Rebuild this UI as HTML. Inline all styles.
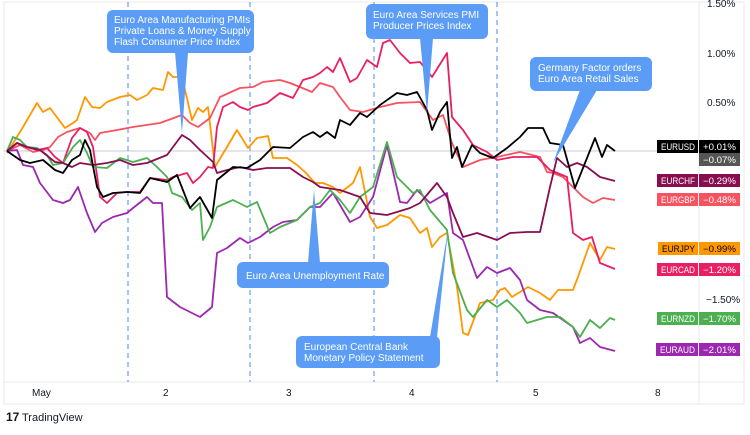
<!DOCTYPE html>
<html><head><meta charset="utf-8"><style>
body{margin:0;background:#fff;width:750px;height:430px;overflow:hidden;font-family:"Liberation Sans",sans-serif}
</style></head><body>
<svg width="750" height="430" xmlns="http://www.w3.org/2000/svg" font-family="Liberation Sans, sans-serif">
<rect x="4" y="2" width="740" height="402" fill="#fff" stroke="#e6e8ee"/>
<line x1="699" y1="2" x2="699" y2="404" stroke="#e6e8ee"/>
<line x1="4" y1="382" x2="744" y2="382" stroke="#e6e8ee"/>
<line x1="4" y1="151" x2="699" y2="151" stroke="#c9cbd2" stroke-width="1"/>
<g stroke="#4a8af4" stroke-dasharray="5,4" stroke-width="1">
<line x1="128" y1="2" x2="128" y2="382"/><line x1="250" y1="2" x2="250" y2="382"/>
<line x1="374" y1="2" x2="374" y2="382"/><line x1="497" y1="2" x2="497" y2="382"/>
</g>
<g fill="none" stroke-width="1.8" stroke-linejoin="round">
<polyline stroke="#ff9800" points="7,153 23,127 37,103 43,112 50,108 65,128 73,123 77,120 85,97 92,107 100,108 107,102 120,97 130,95 137,100 147,95 153,88 163,90 168,72 173,77 182,77 192,120 198,108 203,112 208,107 215,167 227,147 237,130 248,148 257,138 268,136 273,158 287,158 297,165 305,172 315,183 323,183 333,187 340,193 353,183 360,167 370,217 377,228 387,225 400,215 410,218 420,233 427,228 432,247 440,237 447,233 457,287 463,333 468,335 480,303 493,300 500,290 505,288 512,297 528,287 540,293 550,300 558,290 573,290 578,277 590,243 600,260 607,247 615,249"/>
<polyline stroke="#f7525f" points="7,151 20,145 33,152 43,150 50,147 58,137 67,132 80,128 90,133 95,140 100,133 117,130 133,127 160,123 182,115 190,123 198,127 210,118 220,97 240,88 253,87 263,82 280,80 290,83 300,87 312,92 320,83 333,87 340,97 350,110 363,112 380,107 397,103 420,102 433,120 443,115 452,143 463,167 480,160 497,157 520,152 540,157 547,172 553,173 563,177 583,197 593,203 603,198 615,200"/>
<polyline stroke="#e91e63" points="7,151 17,143 27,147 37,150 47,148 55,157 63,163 72,138 80,128 87,132 93,147 100,197 107,203 117,193 127,192 140,192 150,178 167,180 173,177 187,173 193,183 200,177 208,167 213,168 217,127 223,107 233,102 240,107 248,110 253,107 267,103 280,93 293,98 303,80 313,77 320,73 327,67 333,72 340,58 350,82 357,78 367,60 377,67 383,43 390,40 400,53 410,63 420,62 432,77 447,53 452,117 463,130 473,145 487,152 497,160 513,157 537,157 550,170 567,177 573,233 583,240 592,237 600,263 610,267 615,269"/>
<polyline stroke="#9c27b0" points="7,151 17,150 23,165 33,167 40,183 53,200 63,203 70,200 78,187 87,213 95,232 102,223 113,217 127,213 133,208 147,197 153,203 162,203 167,297 180,307 190,312 200,317 212,307 217,253 227,248 240,238 248,243 260,237 273,227 283,222 297,220 310,207 320,207 333,193 350,222 360,217 373,197 387,145 400,202 407,203 417,190 430,203 447,193 453,233 463,240 477,278 487,267 497,273 510,268 520,280 527,300 540,310 553,313 573,327 580,343 590,338 600,347 615,351"/>
<polyline stroke="#4caf50" points="7,151 13,137 20,140 27,147 37,148 47,155 53,165 63,163 73,147 80,140 87,153 93,167 107,168 120,158 133,162 147,158 157,167 167,177 172,193 182,197 192,210 200,203 203,240 210,227 217,207 233,200 247,207 257,202 270,233 280,227 297,220 310,207 320,203 330,190 340,200 350,213 360,197 373,187 387,142 397,177 413,193 420,190 430,210 447,230 453,273 467,310 473,317 487,300 497,307 507,300 520,313 527,323 547,317 560,317 573,327 580,337 590,320 600,328 610,318 615,320"/>
<polyline stroke="#880e4f" points="7,151 17,143 27,147 40,150 55,162 63,163 72,167 80,163 93,165 107,163 120,160 133,165 147,163 167,155 182,135 190,140 200,150 213,162 217,173 227,170 240,167 253,170 267,168 280,168 290,168 303,177 313,182 320,187 340,190 360,197 370,213 387,215 397,212 410,208 420,203 437,183 447,197 453,213 463,237 477,233 497,240 510,233 527,232 540,232 550,187 557,158 567,167 577,163 587,167 600,177 615,181"/>
<polyline stroke="#000" points="7,151 20,160 30,163 43,160 55,170 63,173 72,160 80,155 85,140 90,150 97,187 103,197 113,193 127,192 140,193 150,178 167,182 177,175 190,208 200,197 212,218 217,180 233,167 247,168 260,160 273,147 290,148 303,137 313,132 320,137 327,132 335,138 340,120 350,125 360,113 367,117 380,105 397,93 407,95 417,92 427,110 432,130 440,112 447,102 452,158 457,147 462,167 472,145 480,153 493,158 507,148 520,137 528,128 543,128 550,143 563,145 575,188 585,163 595,138 602,157 607,145 615,151"/>
</g>
<g fill="#5b9cf6">
<rect x="107" y="10" width="147" height="43" rx="6"/><polygon points="175,52 188,52 182,133"/>
<rect x="366" y="4" width="122" height="35" rx="6"/><polygon points="420,38 433,38 427,113"/>
<rect x="530" y="57" width="122" height="34" rx="6"/><polygon points="580,90 597,90 553,163"/>
<rect x="237" y="262" width="152" height="26" rx="6"/><polygon points="308,263 320,263 314,190"/>
<rect x="296" y="336" width="144" height="32" rx="6"/><polygon points="430,337 437,337 448,230"/>
</g>
<g fill="#fff" font-size="10">
<text x="114" y="23">Euro Area Manufacturing PMIs</text>
<text x="114" y="34">Private Loans &amp; Money Supply</text>
<text x="114" y="45">Flash Consumer Price Index</text>
<text x="373" y="18">Euro Area Services PMI</text>
<text x="373" y="29">Producer Prices Index</text>
<text x="538" y="71">Germany Factor orders</text>
<text x="538" y="82">Euro Area Retail Sales</text>
<text x="246" y="279">Euro Area Unemployment Rate</text>
<text x="304" y="350">European Central Bank</text>
<text x="304" y="361">Monetary Policy Statement</text>
</g>
<g font-size="10" fill="#131722">
<text x="707" y="7">1.50%</text><text x="707" y="57">1.00%</text><text x="707" y="106">0.50%</text><text x="706" y="303">−1.50%</text>
<text x="32" y="396">May</text><text x="163" y="396">2</text><text x="286" y="396">3</text><text x="409" y="396">4</text><text x="533" y="396">5</text><text x="655" y="396">8</text>
</g>
<g font-size="9">
<rect x="657" y="140" width="41" height="13" fill="#000"/><rect x="699" y="140" width="41" height="13" fill="#000"/>
<text x="661" y="150" fill="#fff" textLength="34" lengthAdjust="spacingAndGlyphs">EURUSD</text><text x="703" y="150" fill="#fff" textLength="33" lengthAdjust="spacingAndGlyphs">+0.01%</text>
<rect x="699" y="153" width="41" height="13" fill="#555"/><text x="703" y="163" fill="#fff" textLength="33" lengthAdjust="spacingAndGlyphs">−0.07%</text>
<rect x="657" y="174" width="41" height="13" fill="#880e4f"/><rect x="699" y="174" width="41" height="13" fill="#880e4f"/>
<text x="661" y="184" fill="#fff" textLength="34" lengthAdjust="spacingAndGlyphs">EURCHF</text><text x="703" y="184" fill="#fff" textLength="33" lengthAdjust="spacingAndGlyphs">−0.29%</text>
<rect x="657" y="193" width="41" height="13" fill="#f7525f"/><rect x="699" y="193" width="41" height="13" fill="#f7525f"/>
<text x="661" y="203" fill="#fff" textLength="34" lengthAdjust="spacingAndGlyphs">EURGBP</text><text x="703" y="203" fill="#fff" textLength="33" lengthAdjust="spacingAndGlyphs">−0.48%</text>
<rect x="658" y="242" width="40" height="13" fill="#ff9800"/><rect x="699" y="242" width="41" height="13" fill="#ff9800"/>
<text x="662" y="252" fill="#000" textLength="33" lengthAdjust="spacingAndGlyphs">EURJPY</text><text x="703" y="252" fill="#000" textLength="33" lengthAdjust="spacingAndGlyphs">−0.99%</text>
<rect x="657" y="263" width="41" height="13" fill="#e91e63"/><rect x="699" y="263" width="41" height="13" fill="#e91e63"/>
<text x="661" y="273" fill="#fff" textLength="34" lengthAdjust="spacingAndGlyphs">EURCAD</text><text x="703" y="273" fill="#fff" textLength="33" lengthAdjust="spacingAndGlyphs">−1.20%</text>
<rect x="657" y="312" width="41" height="13" fill="#4caf50"/><rect x="699" y="312" width="41" height="13" fill="#4caf50"/>
<text x="661" y="322" fill="#fff" textLength="34" lengthAdjust="spacingAndGlyphs">EURNZD</text><text x="703" y="322" fill="#fff" textLength="33" lengthAdjust="spacingAndGlyphs">−1.70%</text>
<rect x="656" y="343" width="42" height="13" fill="#9c27b0"/><rect x="699" y="343" width="41" height="13" fill="#9c27b0"/>
<text x="660" y="353" fill="#fff" textLength="35" lengthAdjust="spacingAndGlyphs">EURAUD</text><text x="703" y="353" fill="#fff" textLength="33" lengthAdjust="spacingAndGlyphs">−2.01%</text>
</g>
<text x="6" y="421" font-size="12" font-weight="bold" fill="#131722">17</text>
<text x="22" y="421" font-size="11" fill="#131722">TradingView</text>
</svg>
</body></html>
